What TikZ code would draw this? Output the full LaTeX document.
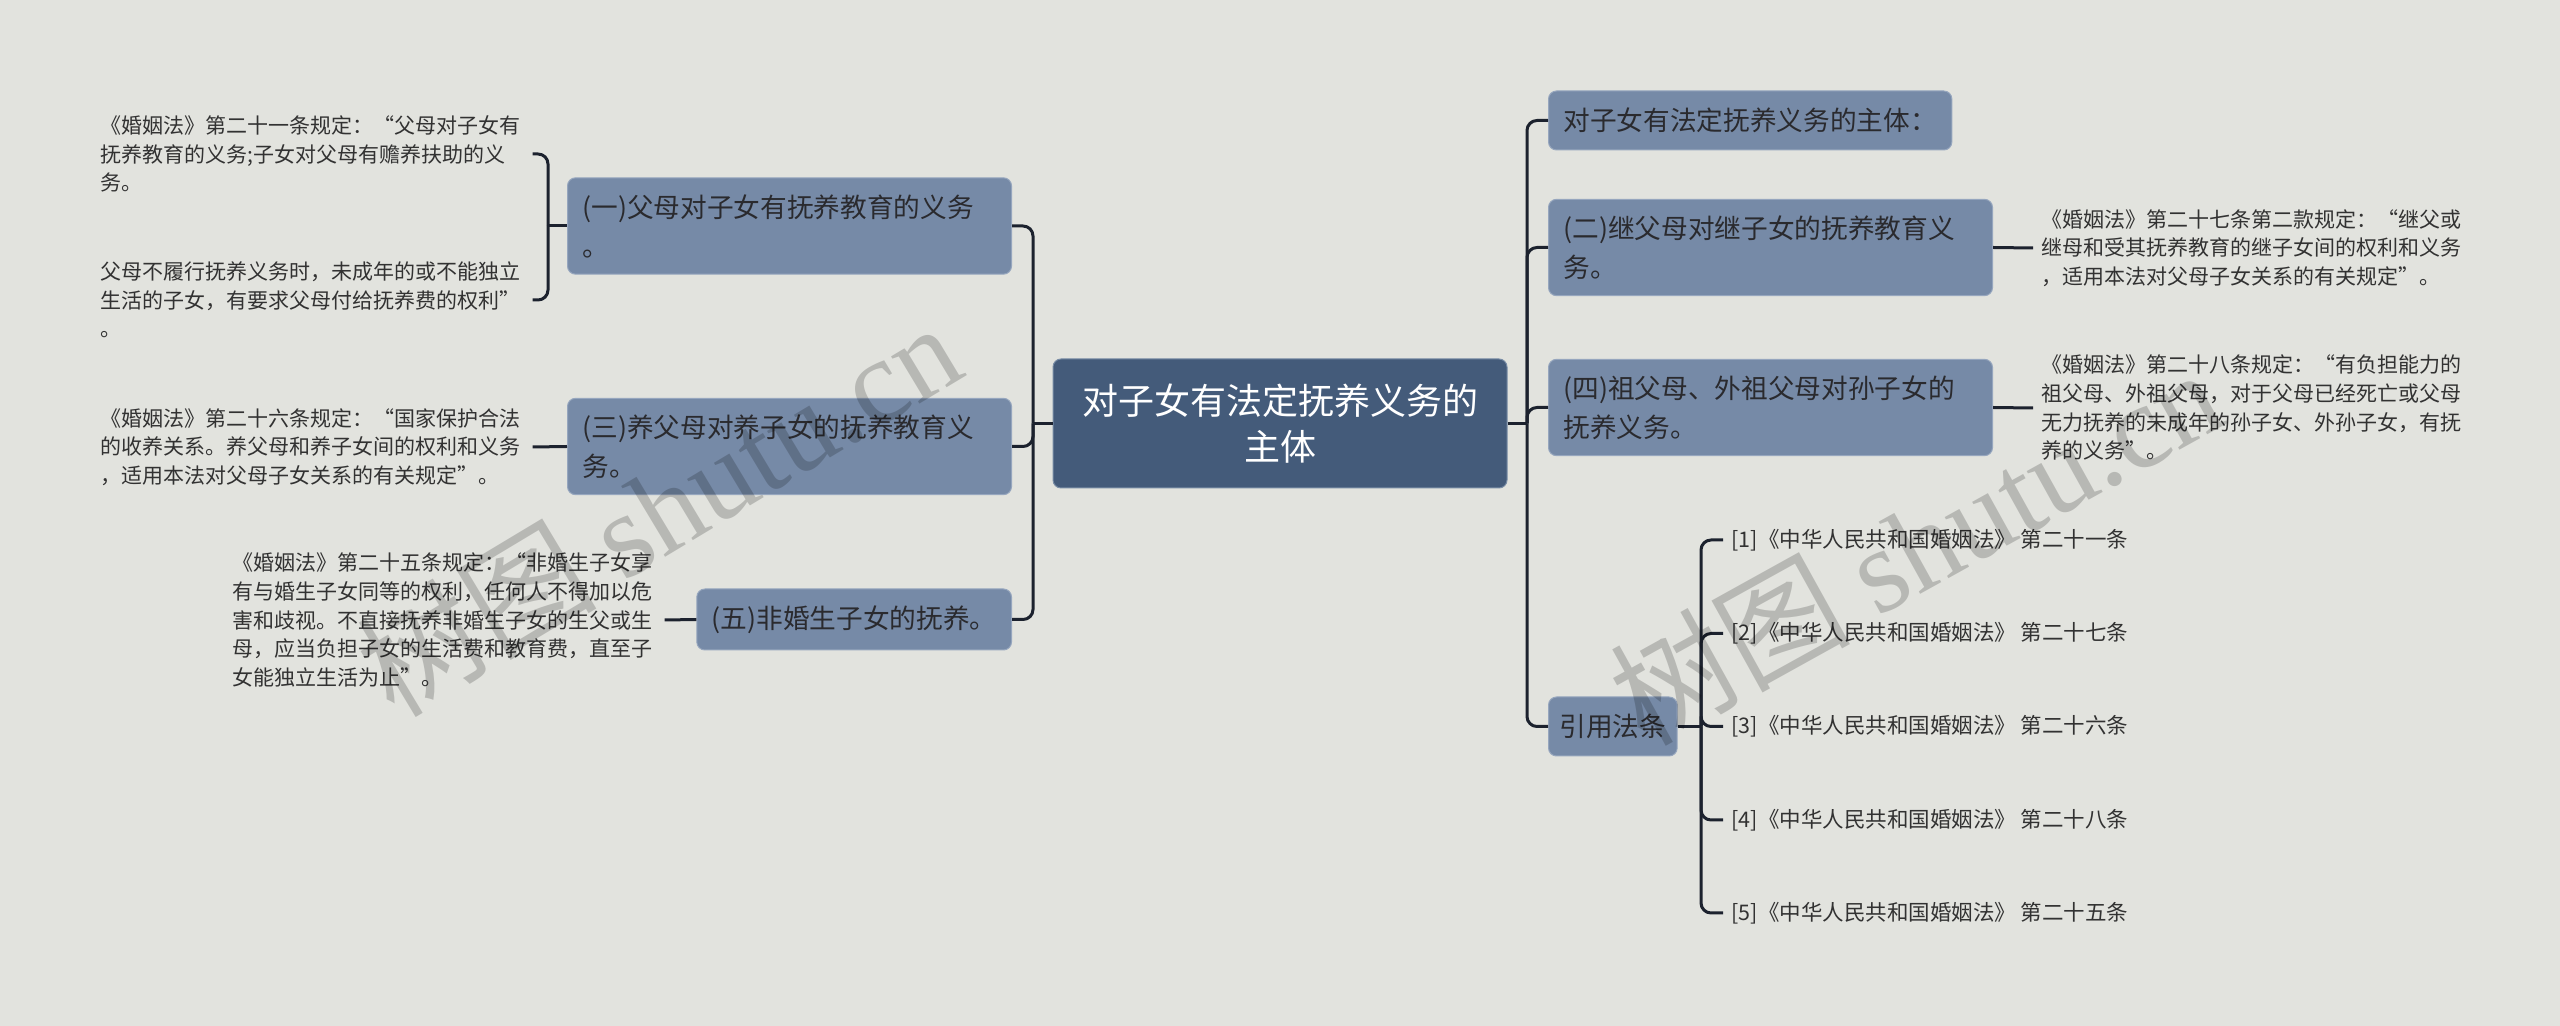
\documentclass[tikz,border=0pt]{standalone}
\usepackage{fontspec}
\setmainfont{Noto Sans CJK SC}
\newfontfamily\wmlatin{Liberation Serif}
\definecolor{bg}{RGB}{226,227,222}
\definecolor{lvone}{RGB}{118,138,167}
\definecolor{lvedge}{RGB}{150,166,190}
\definecolor{ctrfill}{RGB}{68,91,122}
\definecolor{ctredge}{RGB}{120,140,165}
\definecolor{linkcol}{RGB}{28,34,46}
\definecolor{txtone}{RGB}{42,42,46}
\definecolor{txtleaf}{RGB}{50,50,50}
\begin{document}
\begin{tikzpicture}[x=0.3pt,y=-0.3pt,
  ctrbox/.style={fill=ctrfill, draw=ctredge, line width=0.3pt, rounded corners=2.4pt,
    text=white, font=\fontsize{10.8}{13.9}\selectfont, align=center,
    minimum width=136.2pt, minimum height=38.7pt, inner sep=0pt},
  lvbox/.style={fill=lvone, draw=lvedge, line width=0.3pt, rounded corners=2.4pt,
    text=txtone, font=\fontsize{8}{11.7}\selectfont, align=left,
    inner xsep=4.5pt, inner ysep=0pt},
  lvwide/.style={lvbox, text width=124.2pt, minimum height=28.9pt},
  leaf/.style={text=txtleaf, font=\fontsize{6.3}{8.6}\selectfont, align=left,
    text width=127pt, inner xsep=2.4pt, inner ysep=1pt},
  cite/.style={text=txtleaf, font=\fontsize{6.45}{8}\selectfont, inner xsep=2.4pt, inner ysep=1pt},
  link/.style={draw=linkcol, line width=0.9pt},
  curvelink/.style={link, rounded corners=3pt},
  wmark/.style={text=black, text opacity=0.19, font=\fontsize{36}{36}\selectfont, inner sep=0pt}
]
\useasboundingbox[fill=bg] (0,0) rectangle (2560,1026);

% trunk coordinates
\coordinate (ltrunk) at (1033,0);
\coordinate (rtrunk) at (1527,0);
\coordinate (atrunk) at (548,0);
\coordinate (ctrunk) at (1701,0);

% central
\node[ctrbox] (cen) at (1280,423.5) {对子女有法定抚养义务的\\主体};

% left level one
\node[lvwide, anchor=east] (n1) at (1012,226) {(一)父母对子女有抚养教育的义务\\。};
\node[lvwide, anchor=east] (n3) at (1012,446.5) {(三)养父母对养子女的抚养教育义\\务。};
\node[lvbox, anchor=east, minimum width=93.6pt, minimum height=18.3pt] (n5) at (1012,619.5) {(五)非婚生子女的抚养。};

% right level one
\node[lvbox, anchor=west, minimum width=120pt, minimum height=17.7pt] (r0) at (1548,120.5) {对子女有法定抚养义务的主体：};
\node[lvwide, anchor=west] (n2) at (1548,247.5) {(二)继父母对继子女的抚养教育义\\务。};
\node[lvwide, anchor=west] (n4) at (1548,407.5) {(四)祖父母、外祖父母对孙子女的\\抚养义务。};
\node[lvbox, anchor=west, inner xsep=3.3pt, minimum height=17.7pt] (law) at (1548,726.5) {引用法条};

% left leaves
\node[leaf, anchor=west] (a1) at (92,154) {《婚姻法》第二十一条规定：“父母对子女有\\抚养教育的义务;子女对父母有赡养扶助的义\\务。};
\node[leaf, anchor=west] (a2) at (92,300) {父母不履行抚养义务时，未成年的或不能独立\\生活的子女，有要求父母付给抚养费的权利”\\。};
\node[leaf, anchor=west] (b1) at (92,447) {《婚姻法》第二十六条规定：“国家保护合法\\的收养关系。养父母和养子女间的权利和义务\\，适用本法对父母子女关系的有关规定”。};
\node[leaf, anchor=west] (c1) at (224,620) {《婚姻法》第二十五条规定：“非婚生子女享\\有与婚生子女同等的权利，任何人不得加以危\\害和歧视。不直接抚养非婚生子女的生父或生\\母，应当负担子女的生活费和教育费，直至子\\女能独立生活为止”。};

% right leaves
\node[leaf, anchor=west] (d1) at (2033,248) {《婚姻法》第二十七条第二款规定：“继父或\\继母和受其抚养教育的继子女间的权利和义务\\，适用本法对父母子女关系的有关规定”。};
\node[leaf, anchor=west] (e1) at (2033,408) {《婚姻法》第二十八条规定：“有负担能力的\\祖父母、外祖父母，对于父母已经死亡或父母\\无力抚养的未成年的孙子女、外孙子女，有抚\\养的义务”。};

% citations
\node[cite, anchor=west] (f1) at (1723,540) {[1]《中华人民共和国婚姻法》 第二十一条};
\node[cite, anchor=west] (f2) at (1723,633.5) {[2]《中华人民共和国婚姻法》 第二十七条};
\node[cite, anchor=west] (f3) at (1723,726.5) {[3]《中华人民共和国婚姻法》 第二十六条};
\node[cite, anchor=west] (f4) at (1723,820) {[4]《中华人民共和国婚姻法》 第二十八条};
\node[cite, anchor=west] (f5) at (1723,913) {[5]《中华人民共和国婚姻法》 第二十五条};

% connectors: central to left
\draw[link] (cen.west) -- (ltrunk |- cen.west);
\draw[curvelink] (ltrunk |- cen.west) |- (n1.east);
\draw[curvelink] (ltrunk |- cen.west) |- (n3.east);
\draw[curvelink] (ltrunk |- cen.west) |- (n5.east);
% central to right
\draw[link] (cen.east) -- (rtrunk |- cen.east);
\draw[curvelink] (rtrunk |- cen.east) |- (r0.west);
\draw[curvelink] (rtrunk |- cen.east) |- (n2.west);
\draw[curvelink] (rtrunk |- cen.east) |- (n4.west);
\draw[curvelink] (rtrunk |- cen.east) |- (law.west);
% (一) to leaves
\draw[link] (n1.west) -- (atrunk |- n1.west);
\draw[curvelink] (atrunk |- n1.west) |- (a1.east);
\draw[curvelink] (atrunk |- n1.west) |- (a2.east);
% single leaves
\draw[link] (n3.west) -- (b1.east);
\draw[link] (n5.west) -- (c1.east);
\draw[link] (n2.east) -- (d1.west);
\draw[link] (n4.east) -- (e1.west);
% citations
\draw[link] (law.east) -- (ctrunk |- law.east);
\draw[curvelink] (ctrunk |- law.east) |- (f1.west);
\draw[curvelink] (ctrunk |- law.east) |- (f2.west);
\draw[curvelink] (ctrunk |- law.east) |- (f3.west);
\draw[curvelink] (ctrunk |- law.east) |- (f4.west);
\draw[curvelink] (ctrunk |- law.east) |- (f5.west);

% watermarks
\node[wmark, rotate=31] (wm1) at (658,508) {树图 {\wmlatin shutu.cn}};
\node[wmark, rotate=29] (wm2) at (1915,545) {树图 {\wmlatin shutu.cn}};
\end{tikzpicture}
\end{document}
